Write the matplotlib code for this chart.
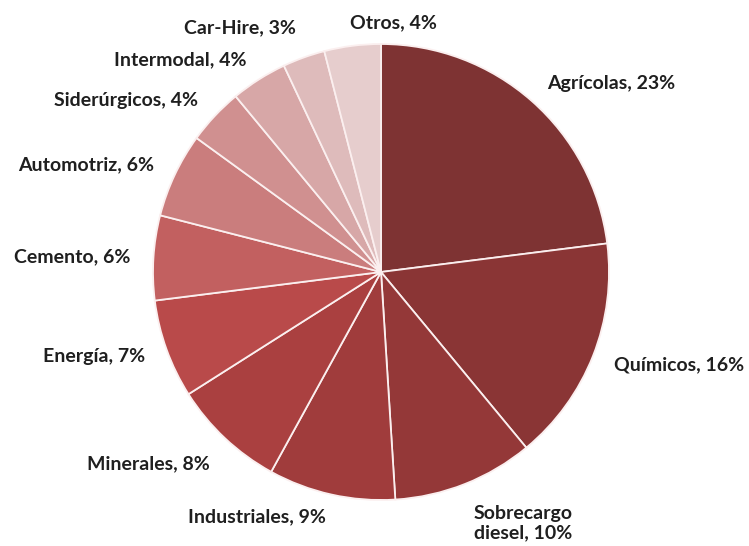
import numpy as np
import matplotlib
matplotlib.use("Agg")
import matplotlib.pyplot as plt

categories = ["Agrícolas", "Químicos", "Sobrecargo\ndiesel", "Industriales", "Minerales",
              "Energía", "Cemento", "Automotriz", "Siderúrgicos", "Intermodal",
              "Car-Hire", "Otros"]
values = [23, 16, 10, 9, 8, 7, 6, 6, 4, 4, 3, 4]

colors = ["#7E3333", "#8A3535", "#943838", "#A03C3C", "#AA4040", "#B94A4A",
          "#C26060", "#CA7D7D", "#D09090", "#D7A7A7", "#DEBBBB", "#E6CDCD"]
label_ha = ["left", "left", "left", "right", "right", "right", "right", "right",
            "right", "right", "right", "left"]
label_va = ["center", "center", "top", "center", "top", "center", "center", "center",
            "center", "center", "bottom", "center"]

W, H, DPI = 749, 546, 100
cx, cy, R = 381, 272, 228

fig = plt.figure(figsize=(W / DPI, H / DPI), dpi=DPI)
ax = fig.add_axes([0, 0, 1, 1])
wedges, _ = ax.pie(values, colors=colors, startangle=90, counterclock=False,
                   radius=1.0,
                   wedgeprops=dict(edgecolor="#FBEFEF", linewidth=1.3))
ax.set_xlim(-cx / R, (W - cx) / R)
ax.set_ylim((cy - H) / R, cy / R)
ax.set_aspect("auto")
ax.axis("off")

for w, cat, val, ha, va in zip(wedges, categories, values, label_ha, label_va):
    ang = np.deg2rad((w.theta1 + w.theta2) / 2)
    x, y = 1.1 * np.cos(ang), 1.1 * np.sin(ang)
    ax.text(x, y, f"{cat}, {val}%", ha=ha, va=va, fontsize=14,
            family="Lato", fontweight="bold", color="#1f1f1f",
            multialignment="center", linespacing=1.15)

fig.savefig("out.png", dpi=DPI)
